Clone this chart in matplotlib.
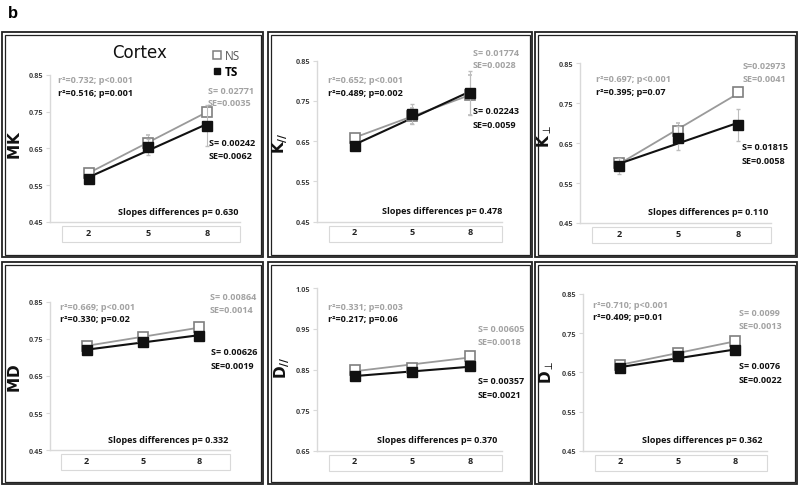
import numpy as np
import matplotlib
matplotlib.use("Agg")
import matplotlib.pyplot as plt
from matplotlib.patches import Rectangle

plt.rcParams['font.family'] = ['Open Sans', 'DejaVu Sans']
plt.rcParams['mathtext.fontset'] = 'dejavusans'

# age groups on the x axis
years = [2, 5, 8]

# group means (NS = open squares, TS = filled squares) and error bars
mk_ns = [0.584, 0.664, 0.750]
mk_ts = [0.567, 0.653, 0.712]
mk_ns_err = [0.006, 0.022, 0.010]
mk_ts_err = [0.008, 0.022, 0.055]

kpar_ns = [0.659, 0.712, 0.765]
kpar_ts = [0.637, 0.717, 0.769]
kpar_ns_err = [0.010, 0.020, 0.050]
kpar_ts_err = [0.008, 0.025, 0.055]

kperp_ns = [0.600, 0.681, 0.777]
kperp_ts = [0.592, 0.662, 0.695]
kperp_ns_err = [0.012, 0.020, 0.012]
kperp_ts_err = [0.020, 0.030, 0.040]

md_ns = [0.732, 0.754, 0.781]
md_ts = [0.720, 0.742, 0.759]
md_ns_err = [0.005, 0.006, 0.008]
md_ts_err = [0.005, 0.006, 0.008]

dpar_ns = [0.850, 0.854, 0.884]
dpar_ts = [0.835, 0.843, 0.858]
dpar_ns_err = [0.006, 0.008, 0.008]
dpar_ts_err = [0.006, 0.008, 0.008]

dperp_ns = [0.669, 0.700, 0.729]
dperp_ts = [0.661, 0.691, 0.706]
dperp_ns_err = [0.005, 0.006, 0.006]
dperp_ts_err = [0.005, 0.006, 0.006]

ns_series = [mk_ns, kpar_ns, kperp_ns, md_ns, dpar_ns, dperp_ns]
ts_series = [mk_ts, kpar_ts, kperp_ts, md_ts, dpar_ts, dperp_ts]
ns_errs = [mk_ns_err, kpar_ns_err, kperp_ns_err, md_ns_err, dpar_ns_err, dperp_ns_err]
ts_errs = [mk_ts_err, kpar_ts_err, kperp_ts_err, md_ts_err, dpar_ts_err, dperp_ts_err]

ylabels = [r"$\mathbf{MK}$", r"$\mathbf{K}_{\mathbf{//}}$", r"$\mathbf{K}_{\perp}$",
           r"$\mathbf{MD}$", r"$\mathbf{D}_{\mathbf{//}}$", r"$\mathbf{D}_{\perp}$"]
ylims = [(0.45, 0.85)] * 4 + [(0.65, 1.05), (0.45, 0.85)]

r2_ns = ["r²=0.732; p<0.001", "r²=0.652; p<0.001", "r²=0.697; p<0.001",
         "r²=0.669; p<0.001", "r²=0.331; p=0.003", "r²=0.710; p<0.001"]
r2_ts = ["r²=0.516; p=0.001", "r²=0.489; p=0.002", "r²=0.395; p=0.07",
         "r²=0.330; p=0.02", "r²=0.217; p=0.06", "r²=0.409; p=0.01"]
s_ns = ["S= 0.02771", "S= 0.01774", "S=0.02973", "S= 0.00864", "S= 0.00605", "S= 0.0099"]
se_ns = ["SE=0.0035", "SE=0.0028", "SE=0.0041", "SE=0.0014", "SE=0.0018", "SE=0.0013"]
s_ts = ["S= 0.00242", "S= 0.02243", "S= 0.01815", "S= 0.00626", "S= 0.00357", "S= 0.0076"]
se_ts = ["SE=0.0062", "SE=0.0059", "SE=0.0058", "SE=0.0019", "SE=0.0021", "SE=0.0022"]
slope_p = ["0.630", "0.478", "0.110", "0.332", "0.370", "0.362"]

# ---- layout (pixels in an 800x489 canvas) ----
W, H = 800, 489
frames = [(2, 33, 263, 258), (268, 33, 532, 258), (535, 33, 797, 258),
          (2, 263, 263, 485), (268, 263, 532, 485), (535, 263, 797, 485)]
ax_boxes = [(50, 75.7, 240, 223), (317, 61.7, 502, 222.7), (580, 64.3, 771, 224),
            (50, 302.7, 230, 451.3), (317, 289.3, 502, 451.7), (583, 295, 767, 451.7)]
ylabel_pos = [(15, 145), (280, 143), (545, 137), (15, 378), (282, 368), (547, 372)]
r2_pos = [(58, 81), (328, 81), (596, 80), (60, 307), (328, 307), (593, 305)]
s_ns_pos = [(208, 91), (473, 53), (743, 67), (210, 298), (478, 330), (739, 314)]
s_ts_pos = [(209, 143), (473, 112), (742, 148), (211, 353), (478, 382), (739, 367)]
slope_pos = [(238, 213), (502, 212), (768, 213), (228, 441), (497, 441), (762, 441)]

GRAY = '#a3a3a3'
DARK = '#111111'
AXIS = '#d9d9d9'
FS = 6.5


def fx(x):
    return x / W


def fy(y):
    return 1 - y / H


def label(x, y, s, color, ha='left'):
    fig.text(fx(x), fy(y), s, fontsize=FS, fontweight='bold', color=color,
             ha=ha, va='center')


fig = plt.figure(figsize=(8, 4.89), dpi=100)

fig.text(fx(8), fy(13), "b", fontsize=12, fontweight='bold',
         family='Liberation Sans', ha='left', va='center')

for (l, t, r, b) in frames:
    fig.patches.append(Rectangle((fx(l), fy(b)), (r - l) / W, (b - t) / H,
                                 transform=fig.transFigure, fill=False,
                                 ec='#222222', lw=1.3))
    fig.patches.append(Rectangle((fx(l + 2.5), fy(b - 2.5)), (r - l - 5) / W, (b - t - 5) / H,
                                 transform=fig.transFigure, fill=False,
                                 ec='#222222', lw=0.9))

xs = np.arange(len(years))
for i in range(6):
    l, t, r, b = ax_boxes[i]
    h_ax = b - t
    ax = fig.add_axes([fx(l), fy(b), (r - l) / W, h_ax / H])
    ax.set_facecolor('none')

    # trend lines (linear fit of the means) under the markers
    for vals, col, lw in [(ns_series[i], '#9a9a9a', 1.3), (ts_series[i], DARK, 1.5)]:
        fit = np.polyfit(years, vals, 1)
        ax.plot(xs, np.polyval(fit, years), color=col, lw=lw, zorder=2)

    ax.errorbar(xs, ns_series[i], yerr=ns_errs[i], fmt='s', ms=6.5, mfc='white',
                mec='#7f7f7f', mew=1.2, ecolor='#bdbdbd', elinewidth=0.8,
                capsize=1.5, zorder=3)
    ax.errorbar(xs, ts_series[i], yerr=ts_errs[i], fmt='s', ms=6.5, mfc=DARK,
                mec=DARK, ecolor='#bdbdbd', elinewidth=0.8, capsize=1.5, zorder=4)

    ax.set_xlim(-0.65, 2.55)
    lo, hi = ylims[i]
    ax.set_ylim(lo, hi)
    ticks = np.arange(lo, hi + 0.001, 0.1)
    ax.set_yticks(ticks)
    ax.set_yticklabels([f"{v:.2f}" for v in ticks], fontweight='bold')
    ax.set_xticks(xs)
    ax.set_xticklabels([str(y) for y in years], fontweight='bold')
    ax.tick_params(axis='y', length=3, color=AXIS, labelsize=5.2,
                   labelcolor='#404040', pad=2)
    ax.tick_params(axis='x', length=0, labelsize=6.5, labelcolor='#222222', pad=4)
    for side in ['top', 'right']:
        ax.spines[side].set_visible(False)
    for side in ['left', 'bottom']:
        ax.spines[side].set_color(AXIS)
        ax.spines[side].set_linewidth(1)

    # label box under the x axis
    ax.add_patch(Rectangle((-0.45, -20 / h_ax), 3.0, 16 / h_ax,
                           transform=ax.get_xaxis_transform(), fill=False,
                           ec=AXIS, lw=0.8, clip_on=False))

    lx, ly = ylabel_pos[i]
    fig.text(fx(lx), fy(ly), ylabels[i], rotation=90, fontsize=11,
             family='DejaVu Sans', ha='center', va='center', color=DARK)

    rx, ry = r2_pos[i]
    label(rx, ry, r2_ns[i], GRAY)
    label(rx, ry + 12.5, r2_ts[i], DARK)

    sx, sy = s_ns_pos[i]
    label(sx, sy, s_ns[i], GRAY)
    label(sx, sy + 12.5, se_ns[i], GRAY)
    sx, sy = s_ts_pos[i]
    label(sx, sy, s_ts[i], DARK)
    label(sx, sy + 13.5, se_ts[i], DARK)

    px_, py_ = slope_pos[i]
    label(px_, py_, "Slopes differences p= " + slope_p[i], DARK, ha='right')

    if i == 0:
        fig.text(fx(140), fy(53), "Cortex", fontsize=12,
                 family='DejaVu Sans', ha='center', va='center', color=DARK)
        h_ns, = ax.plot([], [], 's', ms=6, mfc='white', mec='#7f7f7f', mew=1.1)
        h_ts, = ax.plot([], [], 's', ms=5, mfc=DARK, mec=DARK)
        leg = ax.legend([h_ns, h_ts], ["NS", "TS"], loc='upper left',
                        bbox_to_anchor=(fx(206), fy(44)), bbox_transform=fig.transFigure,
                        frameon=False, fontsize=8.5, handlelength=0.8,
                        handletextpad=0.3, labelspacing=0.25, borderpad=0)
        leg.get_texts()[0].set_color('#555555')
        leg.get_texts()[1].set_fontweight('bold')

fig.savefig("out.png", dpi=100)
